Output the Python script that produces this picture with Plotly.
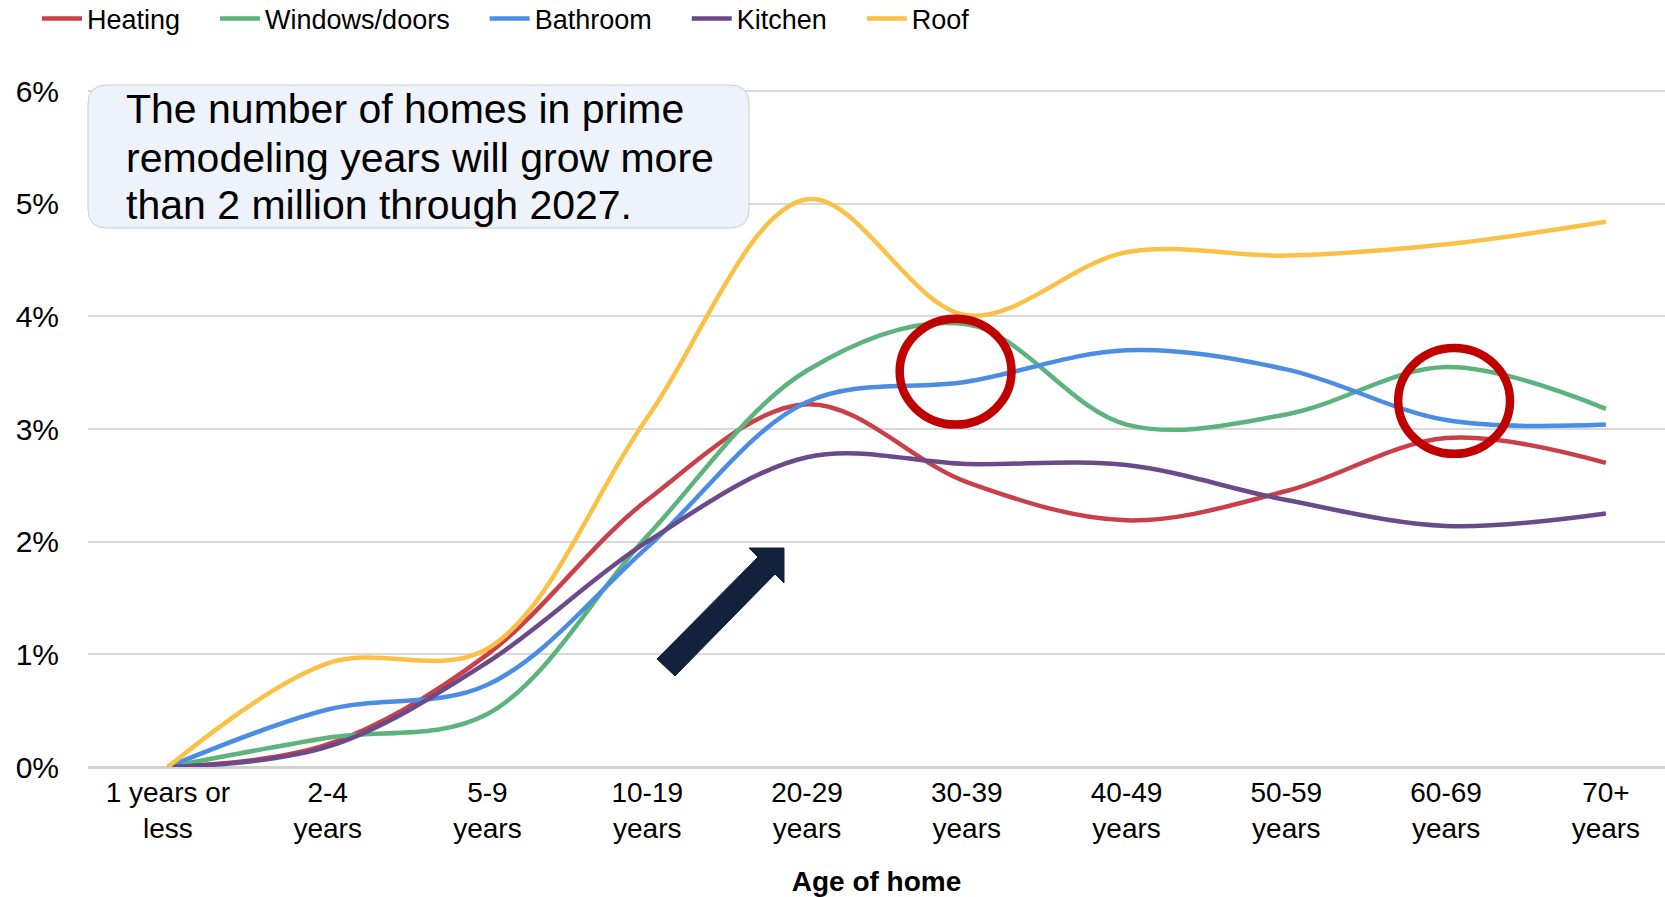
import plotly.graph_objects as go

categories = ["1 years or<br>less", "2-4<br>years", "5-9<br>years", "10-19<br>years", "20-29<br>years",
              "30-39<br>years", "40-49<br>years", "50-59<br>years", "60-69<br>years", "70+<br>years"]
heating = [0.00, 0.20, 1.00, 2.37, 3.22, 2.53, 2.19, 2.45, 2.92, 2.70]
windows_doors = [0.00, 0.26, 0.47, 2.05, 3.52, 3.93, 3.04, 3.13, 3.55, 3.18]
bathroom = [0.00, 0.51, 0.73, 1.95, 3.24, 3.42, 3.70, 3.53, 3.08, 3.04]
kitchen = [0.00, 0.18, 0.93, 2.00, 2.75, 2.69, 2.68, 2.37, 2.14, 2.25]
roof = [0.00, 0.92, 1.05, 3.10, 5.04, 4.01, 4.57, 4.54, 4.64, 4.84]

NB = "\u00a0"
series = [
    ("Heating", heating, "#C9404B", 4),
    ("Windows/doors", windows_doors, "#5DB37E", 4),
    ("Bathroom", bathroom, "#4A8DE3", 4),
    ("Kitchen", kitchen, "#6A4A88", 4),
    ("Roof", roof, "#FAC146", 0),
]

W, H = 1665, 897
ML, MR, MT, MB = 88, 0, 90, 130
PW, PH = W - ML - MR, H - MT - MB


def px(x):
    return (x - ML) / PW


def py(y):
    return (H - MB - y) / PH


FONT = "Liberation Sans, Arial, sans-serif"

fig = go.Figure()
xs = list(range(len(categories)))
for name, vals, col, pad in series:
    fig.add_trace(go.Scatter(
        x=xs, y=vals, name=name + NB * pad, mode="lines",
        line=dict(color=col, width=4.5, shape="spline", smoothing=1.0),
    ))

# rounded text box
x0, x1, y0, y1, r = 88, 749, 85, 228, 19
box_path = (f"M {px(x0 + r)},{py(y0)} L {px(x1 - r)},{py(y0)} Q {px(x1)},{py(y0)} {px(x1)},{py(y0 + r)} "
            f"L {px(x1)},{py(y1 - r)} Q {px(x1)},{py(y1)} {px(x1 - r)},{py(y1)} "
            f"L {px(x0 + r)},{py(y1)} Q {px(x0)},{py(y1)} {px(x0)},{py(y1 - r)} "
            f"L {px(x0)},{py(y0 + r)} Q {px(x0)},{py(y0)} {px(x0 + r)},{py(y0)} Z")

# block arrow (decoration), outline in page pixels
arrow_pts = [(657, 659), (758, 557), (749, 548), (784, 548), (784, 583), (775, 574), (675, 676)]
arrow_path = "M " + " L ".join(f"{px(a)},{py(b)}" for a, b in arrow_pts) + " Z"

shapes = [
    dict(type="path", xref="paper", yref="paper", path=box_path,
         fillcolor="#EEF2FA", line=dict(color="#C9CDD6", width=1), layer="above"),
    dict(type="path", xref="paper", yref="paper", path=arrow_path,
         fillcolor="#14213D", line=dict(color="#14213D", width=1), layer="above"),
    dict(type="circle", xref="x", yref="y", x0=4.58, x1=5.28, y0=3.04, y1=3.98,
         line=dict(color="#C00000", width=8.5), layer="above"),
    dict(type="circle", xref="x", yref="y", x0=7.70, x1=8.40, y0=2.78, y1=3.72,
         line=dict(color="#C00000", width=8.5), layer="above"),
]

box_lines = ["The number of homes in prime", "remodeling years will grow more", "than 2 million through 2027."]
box_y = [109, 158, 205]
annotations = [
    dict(xref="paper", yref="paper", x=px(124), y=py(yy), xanchor="left", yanchor="middle",
         align="left", showarrow=False, text=t,
         font=dict(family=FONT, size=41, color="#000000"))
    for t, yy in zip(box_lines, box_y)
]

fig.update_layout(
    width=W, height=H,
    margin=dict(l=ML, r=MR, t=MT, b=MB, autoexpand=False),
    paper_bgcolor="white", plot_bgcolor="white",
    font=dict(family=FONT, size=27, color="#000000"),
    shapes=shapes, annotations=annotations,
    showlegend=True,
    legend=dict(orientation="h", x=px(37), y=py(19), xanchor="left", yanchor="middle",
                font=dict(family=FONT, size=27, color="#000000"), itemwidth=40,
                bgcolor="rgba(0,0,0,0)"),
    xaxis=dict(range=[-0.5, 9.37], tickmode="array", tickvals=xs, ticktext=categories,
               showgrid=False, zeroline=False, showline=False, ticks="",
               ticklabelstandoff=6, automargin=False,
               tickfont=dict(family=FONT, size=28, color="#000000"),
               title=dict(text="<b>Age of home</b>", standoff=33,
                          font=dict(family=FONT, size=28, color="#000000"))),
    yaxis=dict(range=[0, 6.01], tickmode="array", tickvals=[0, 1, 2, 3, 4, 5, 6],
               ticktext=["0%", "1%", "2%", "3%", "4%", "5%", "6%"],
               showgrid=True, gridcolor="#D9D9D9", gridwidth=2,
               zeroline=True, zerolinecolor="#D0D0D0", zerolinewidth=3,
               showline=False, ticks="", ticklabelstandoff=28, automargin=False,
               tickfont=dict(family=FONT, size=30, color="#000000")),
)

fig.write_html("out.html")
